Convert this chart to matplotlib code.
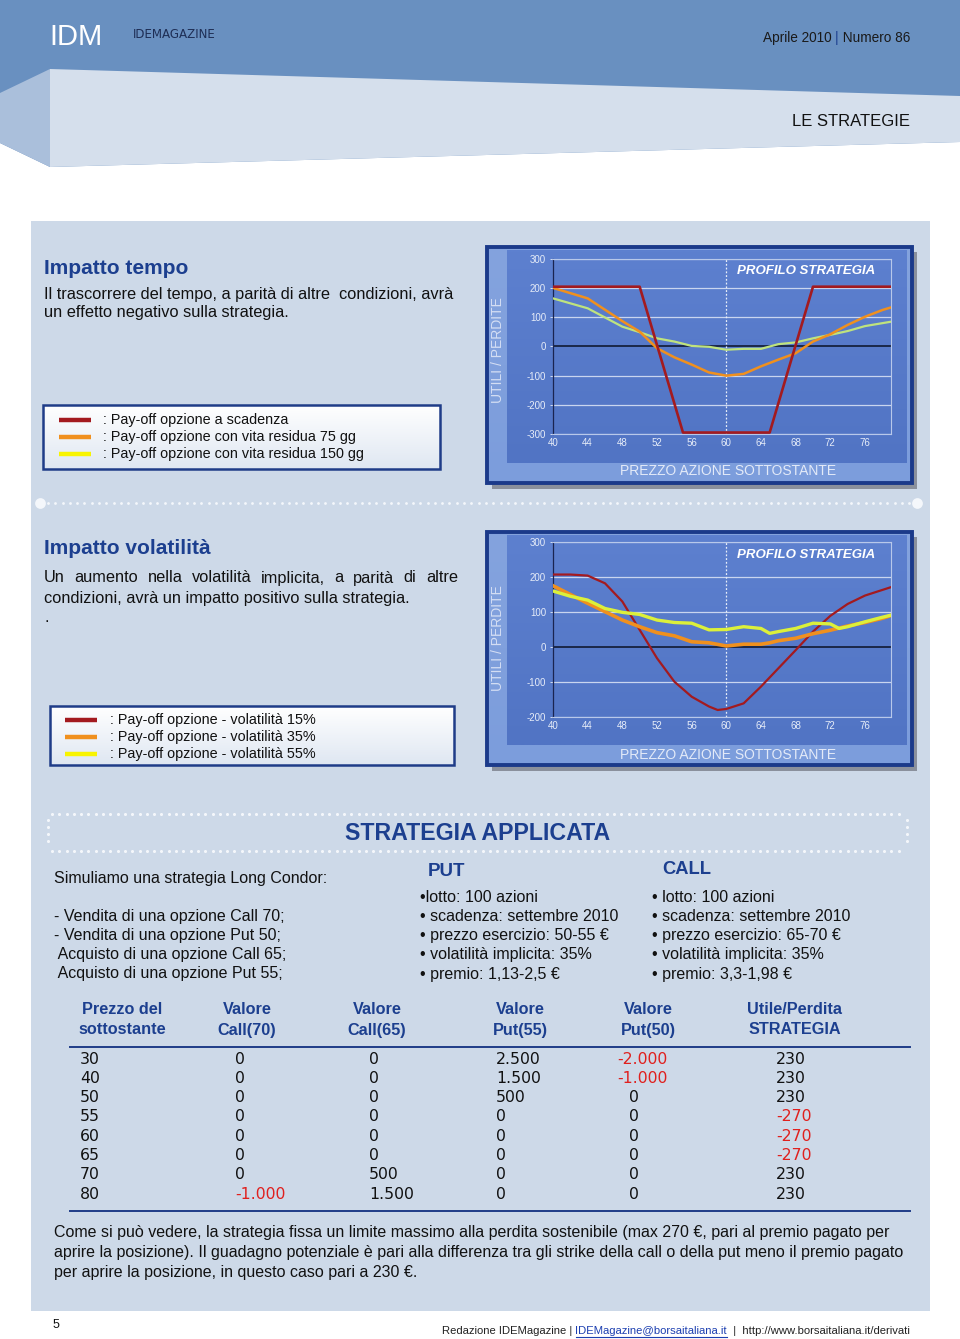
import matplotlib
matplotlib.use("Agg")
import matplotlib.pyplot as plt
import numpy as np
from matplotlib.patches import Rectangle, Polygon

plt.rcParams['font.family'] = ['Liberation Sans', 'DejaVu Sans']

# ------------------------------------------------------------------ data
# Chart 1: Impatto tempo
t_exp_x = [40, 50, 55, 65, 70, 79]
t_exp_y = [205, 205, -295, -295, 205, 205]
t_x = [40, 44, 48, 50, 52, 54, 56, 58, 60, 62, 64, 66, 68, 70, 72, 74, 76, 78, 79]
t_75gg = [201, 165, 87, 51, -6, -37, -62, -89, -100, -94, -68, -45, -23, 17, 42, 74, 102, 125, 134]
t_150gg = [165, 131, 68, 49, 28, 17, 2, -1, -11, -8, -8, 8, 14, 28, 40, 53, 70, 80, 85]

# Chart 2: Impatto volatilita
v_red_x = [40, 42, 44, 46, 48, 50, 52, 54, 56, 58, 59, 60, 62, 64, 66, 68, 70, 72, 74, 76, 78, 79]
v_15 = [207, 207, 204, 182, 130, 49, -32, -99, -142, -170, -180, -177, -161, -113, -61, -9, 44, 89, 123, 147, 163, 171]
v_x = [40, 42, 44, 46, 48, 50, 52, 54, 56, 58, 60, 62, 64, 65, 66, 68, 70, 72, 73, 74, 76, 78, 79]
v_35 = [175, 150, 125, 101, 77, 58, 41, 32, 15, 12, 3, 8, 8, 12, 18, 25, 38, 48, 54, 60, 70, 82, 90]
v_55 = [160, 145, 134, 110, 99, 93, 77, 70, 68, 49, 50, 58, 53, 39, 44, 53, 68, 66, 53, 58, 72, 85, 91]

x_ticks = [40, 44, 48, 52, 56, 60, 64, 68, 72, 76]
t_yticks = [-300, -200, -100, 0, 100, 200, 300]
v_yticks = [-200, -100, 0, 100, 200, 300]

legend1 = [": Pay-off opzione a scadenza",
           ": Pay-off opzione con vita residua 75 gg",
           ": Pay-off opzione con vita residua 150 gg"]
legend2 = [": Pay-off opzione - volatilità 15%",
           ": Pay-off opzione - volatilità 35%",
           ": Pay-off opzione - volatilità 55%"]

# Table
tab_headers = [("Prezzo del", "sottostante"), ("Valore", "Call(70)"), ("Valore", "Call(65)"),
               ("Valore", "Put(55)"), ("Valore", "Put(50)"), ("Utile/Perdita", "STRATEGIA")]
prezzo = [30, 40, 50, 55, 60, 65, 70, 80]
call70 = [0, 0, 0, 0, 0, 0, 0, -1000]
call65 = [0, 0, 0, 0, 0, 0, 500, 1500]
put55 = [2500, 1500, 500, 0, 0, 0, 0, 0]
put50 = [-2000, -1000, 0, 0, 0, 0, 0, 0]
utile = [230, 230, 230, -270, -270, -270, 230, 230]

strategy_lines = ["- Vendita di una opzione Call 70;",
                  "- Vendita di una opzione Put 50;",
                  " Acquisto di una opzione Call 65;",
                  " Acquisto di una opzione Put 55;"]
put_lines = ["•lotto: 100 azioni", "• scadenza: settembre 2010", "• prezzo esercizio: 50-55 €",
             "• volatilità implicita: 35%", "• premio: 1,13-2,5 €"]
call_lines = ["• lotto: 100 azioni", "• scadenza: settembre 2010", "• prezzo esercizio: 65-70 €",
              "• volatilità implicita: 35%", "• premio: 3,3-1,98 €"]
concl_lines = ["Come si può vedere, la strategia fissa un limite massimo alla perdita sostenibile (max 270 €, pari al premio pagato per",
               "aprire la posizione). Il guadagno potenziale è pari alla differenza tra gli strike della call o della put meno il premio pagato",
               "per aprire la posizione, in questo caso pari a 230 €."]

# ------------------------------------------------------------------ colours
BLUE_HDR = "#6990c0"
PANEL = "#cdd9e8"
TITLE = "#1c3f8f"
RED = "#a31a1f"
ORANGE = "#f0901e"
GREEN1 = "#bfe37e"
YELLOW2 = "#dcf03a"
NEG = "#e0201e"

W, H = 960, 1339
fig = plt.figure(figsize=(W / 100, H / 100), dpi=100)
page = fig.add_axes([0, 0, 1, 1])
page.set_xlim(0, W)
page.set_ylim(H, 0)
page.axis("off")
renderer = fig.canvas.get_renderer()


def rect(x0, y0, x1, y1, **kw):
    page.add_patch(Rectangle((x0, y0), x1 - x0, y1 - y0, **kw))


def vgrad(x0, y0, x1, y1, c_top, c_bot, z=1):
    a = np.array(matplotlib.colors.to_rgb(c_top))
    b = np.array(matplotlib.colors.to_rgb(c_bot))
    t = np.linspace(0, 1, 64)[:, None]
    img = (a * (1 - t) + b * t)[:, None, :]
    page.imshow(img, extent=(x0, x1, y1, y0), aspect="auto", zorder=z, interpolation="bilinear")


def text_w(s, **kw):
    t = page.text(0, 0, s, **kw)
    w = t.get_window_extent(renderer).width
    t.remove()
    return w


def runs(x, y, parts, ha="left", **kw):
    widths = [text_w(p[0], **kw) for p in parts]
    total = sum(widths)
    cx = x - total if ha == "right" else x
    for (s, c, ul), w in zip(parts, widths):
        page.text(cx, y, s, color=c, ha="left", va="center", **kw)
        if ul:
            page.plot([cx, cx + w], [y + 6, y + 6], color=c, lw=0.8)
        cx += w


def justify(x0, x1, y, s, **kw):
    words = s.split()
    ws = [text_w(w, **kw) for w in words]
    gap = (x1 - x0 - sum(ws)) / (len(words) - 1)
    cx = x0
    for w, wd in zip(words, ws):
        page.text(cx, y, w, ha="left", va="center", **kw)
        cx += wd + gap


# ------------------------------------------------------------------ header
rect(0, 0, W, 200, color=BLUE_HDR, zorder=0, lw=0)
page.add_patch(Polygon([(0, 200), (0, 143), (50, 167), (W, 142), (W, 200)], closed=True, color="white", lw=0, zorder=0.5))
page.add_patch(Polygon([(0, 93), (50, 69), (50, 167), (0, 143)], closed=True, color="#aabfdb", lw=0, zorder=0.6))
page.add_patch(Polygon([(50, 69), (W, 96), (W, 142), (50, 167)], closed=True, color="#d5dfec", lw=0, zorder=0.6))
rect(0, 200, W, H, color="white", zorder=0, lw=0)

page.text(49, 37, "IDM", color="white", fontsize=21, va="center", ha="left")
page.text(133, 35, "IDEMAGAZINE", color="#1e2e55", fontsize=8.6, va="center", ha="left",
          family=["DejaVu Sans"])
runs(910, 38, [("Aprile 2010 ", "#1a1a1a", False), ("|", "#1c3f8f", False), (" Numero 86", "#1a1a1a", False)],
     ha="right", fontsize=9.8)
page.text(910, 121, "LE STRATEGIE", color="#111111", fontsize=12, va="center", ha="right")

# content panel
rect(31, 221, 930, 1311, color=PANEL, zorder=0.8, lw=0)

BODY = 11.8
# ------------------------------------------------------------------ section 1 text
page.text(44, 268, "Impatto tempo", color=TITLE, fontsize=15, fontweight="bold", va="center")
page.text(44, 294, "Il trascorrere del tempo, a parità di altre  condizioni, avrà", fontsize=BODY,
          va="center", color="#111111")
page.text(44, 313, "un effetto negativo sulla strategia.", fontsize=BODY, va="center", color="#111111")


def legend_box(x0, y0, x1, y1, labels, lx0, lx1, tx, ys):
    vgrad(x0, y0, x1, y1, "#ffffff", "#dfe7f2", z=2)
    rect(x0, y0, x1, y1, fill=False, ec="#1f3c88", lw=1.8, zorder=3)
    for lab, c, yy in zip(labels, [RED, ORANGE, "#f8f400"], ys):
        page.plot([lx0, lx1], [yy, yy], color=c, lw=3.2, solid_capstyle="butt", zorder=3)
        page.text(tx, yy, lab, fontsize=10.4, va="center", color="#111111", zorder=3)


legend_box(43, 405, 440, 469, legend1, 59, 91, 103, [420, 437, 454])

# dotted separator
xs = np.arange(48, 912, 7.3)
page.scatter(xs, np.full_like(xs, 503), s=4, color="#f4f7fb", zorder=2, lw=0)
page.scatter([40, 917], [503, 503], s=60, color="#f4f7fb", zorder=2, lw=0)

# ------------------------------------------------------------------ section 2 text
page.text(44, 549, "Impatto volatilità", color=TITLE, fontsize=15, fontweight="bold", va="center")
justify(44, 458, 578, "Un aumento nella volatilità implicita, a parità di altre", fontsize=BODY, color="#111111")
page.text(44, 598, "condizioni, avrà un impatto positivo sulla strategia.", fontsize=BODY, va="center", color="#111111")
page.text(44, 618, ".", fontsize=BODY, va="center", color="#111111")
legend_box(50, 706, 454, 765, legend2, 65, 97, 110, [720, 737, 754])


# ------------------------------------------------------------------ charts
def chart_panel(top, bottom, ylab_y, xlab_y):
    l, r = 487, 912
    rect(l + 5, top + 5, r + 5, bottom + 6, color="#8a909c", zorder=1, lw=0)
    vgrad(l, top, r, bottom, "#84a3de", "#7c9ddc", z=1.2)
    vgrad(507, top + 3, 907, bottom - 20, "#5d80cf", "#5174c4", z=1.3)
    rect(l, top, r, bottom, fill=False, ec="#1b3a8a", lw=2.8, zorder=1.5)
    page.text(498, ylab_y, "UTILI / PERDITE", rotation=90, color="#d4def4", fontsize=10,
              ha="center", va="center", zorder=2)
    page.text(728, xlab_y, "PREZZO AZIONE SOTTOSTANTE", color="#e3eaf8", fontsize=10,
              ha="center", va="center", zorder=2)


def pax(l, t, r, b):
    return [l / W, 1 - b / H, (r - l) / W, (b - t) / H]


def style_chart(ax, ylim, yticks):
    ax.set_facecolor("none")
    ax.set_xlim(40, 79)
    ax.set_ylim(*ylim)
    ax.set_xticks(x_ticks)
    ax.set_yticks(yticks)
    ax.set_yticklabels([str(v) for v in yticks])
    ax.tick_params(colors="#e6ecf8", labelsize=7, length=2, width=0.6, pad=3)
    for lab in ax.get_xticklabels() + ax.get_yticklabels():
        lab.set_color("#e6ecf8")
    for s in ["top", "right", "bottom"]:
        ax.spines[s].set_color("#b8c8ea")
        ax.spines[s].set_linewidth(0.8)
    ax.spines["left"].set_color("#1a2450")
    ax.spines["left"].set_linewidth(0.9)
    ax.tick_params(axis="x", length=0)
    for yv in yticks:
        if yv != 0:
            ax.axhline(yv, color="#c9d5ef", lw=0.9, zorder=1)
    ax.axhline(0, color="#111a33", lw=1.2, zorder=1.5)
    ax.axvline(60, color="#e8eef9", lw=0.9, ls=(0, (1.5, 1.5)), zorder=1.5)


# chart 1
chart_panel(247, 483, 350, 471)
ax1 = fig.add_axes(pax(553, 259, 891, 434))
style_chart(ax1, (-300, 300), t_yticks)
ax1.plot(t_x, t_150gg, color=GREEN1, lw=1.6, zorder=3)
ax1.plot(t_x, t_75gg, color=ORANGE, lw=1.8, zorder=3)
ax1.plot(t_exp_x, t_exp_y, color=RED, lw=1.9, zorder=4)
page.text(806, 271, "PROFILO STRATEGIA", color="white", fontsize=9.5, fontweight="bold",
          fontstyle="italic", ha="center", va="center", zorder=5)

# chart 2
chart_panel(532, 765, 638, 755)
ax2 = fig.add_axes(pax(553, 542, 891, 717))
style_chart(ax2, (-200, 300), v_yticks)
ax2.plot(v_red_x, v_15, color=RED, lw=1.6, zorder=3)
ax2.plot(v_x, v_35, color=ORANGE, lw=2.6, zorder=3)
ax2.plot(v_x, v_55, color=YELLOW2, lw=2.4, zorder=3)
page.text(806, 555, "PROFILO STRATEGIA", color="white", fontsize=9.5, fontweight="bold",
          fontstyle="italic", ha="center", va="center", zorder=5)

# ------------------------------------------------------------------ strategia applicata
dx = np.arange(52, 905, 7.3)
page.scatter(dx, np.full_like(dx, 814), s=5, color="#f4f7fb", zorder=2, lw=0)
page.scatter(dx, np.full_like(dx, 851), s=5, color="#f4f7fb", zorder=2, lw=0)
dy = np.arange(820, 848, 7)
page.scatter(np.full_like(dy, 48.0), dy, s=5, color="#f4f7fb", zorder=2, lw=0)
page.scatter(np.full_like(dy, 907.0), dy, s=5, color="#f4f7fb", zorder=2, lw=0)
page.text(478, 833, "STRATEGIA APPLICATA", color=TITLE, fontsize=16.7, fontweight="bold",
          ha="center", va="center", zorder=3)

S3 = 11.5
page.text(54, 878, "Simuliamo una strategia Long Condor:", fontsize=S3, va="center", color="#111111")
for i, s in enumerate(strategy_lines):
    page.text(54, 916 + i * 19.3, s, fontsize=S3, va="center", color="#111111")
page.text(428, 872, "PUT", color=TITLE, fontsize=13.5, fontweight="bold", va="center")
page.text(662, 870, "CALL", color=TITLE, fontsize=13.2, fontweight="bold", va="center")
for i, s in enumerate(put_lines):
    page.text(420, 897 + i * 19.3, s, fontsize=S3, va="center", color="#111111")
for i, s in enumerate(call_lines):
    page.text(652, 897 + i * 19.3, s, fontsize=S3, va="center", color="#111111")

# table
hdr_cx = [122, 247, 377, 520, 648, 795]
for (a, b), cx in zip(tab_headers, hdr_cx):
    page.text(cx, 1010, a, color=TITLE, fontsize=11.7, fontweight="bold", ha="center", va="center")
    page.text(cx, 1030, b, color=TITLE, fontsize=11.7, fontweight="bold", ha="center", va="center")
page.plot([70, 910], [1047, 1047], color="#1f3c88", lw=1.4)
page.plot([70, 910], [1211, 1211], color="#1f3c88", lw=1.4)


def fmt(v):
    s = f"{abs(v):,}".replace(",", ".")
    return ("-" if v < 0 else "") + s


cols = [prezzo, call70, call65, put55, put50, utile]
col_x = [80, 235, 369, 496, 617, 776]
zero_off = [0, 0, 0, 0, 12, 0]
for c, (vals, x) in enumerate(zip(cols, col_x)):
    for r, v in enumerate(vals):
        xx = x + (zero_off[c] if v == 0 else 0)
        page.text(xx, 1059 + r * 19.3, fmt(v), color=NEG if v < 0 else "#111111",
                  fontsize=11.3, family=["DejaVu Sans"], va="center", ha="left")

for i, s in enumerate(concl_lines):
    page.text(54, 1233 + i * 19.5, s, fontsize=11.5, va="center", color="#111111")

# footer
page.text(53, 1325, "5", fontsize=9, va="center", color="#111111")
runs(910, 1331, [("Redazione IDEMagazine | ", "#222222", False),
                 ("IDEMagazine@borsaitaliana.it", "#1c3fb0", True),
                 ("  |  http://www.borsaitaliana.it/derivati", "#222222", False)],
     ha="right", fontsize=8.1)

fig.savefig("out.png", dpi=100)
